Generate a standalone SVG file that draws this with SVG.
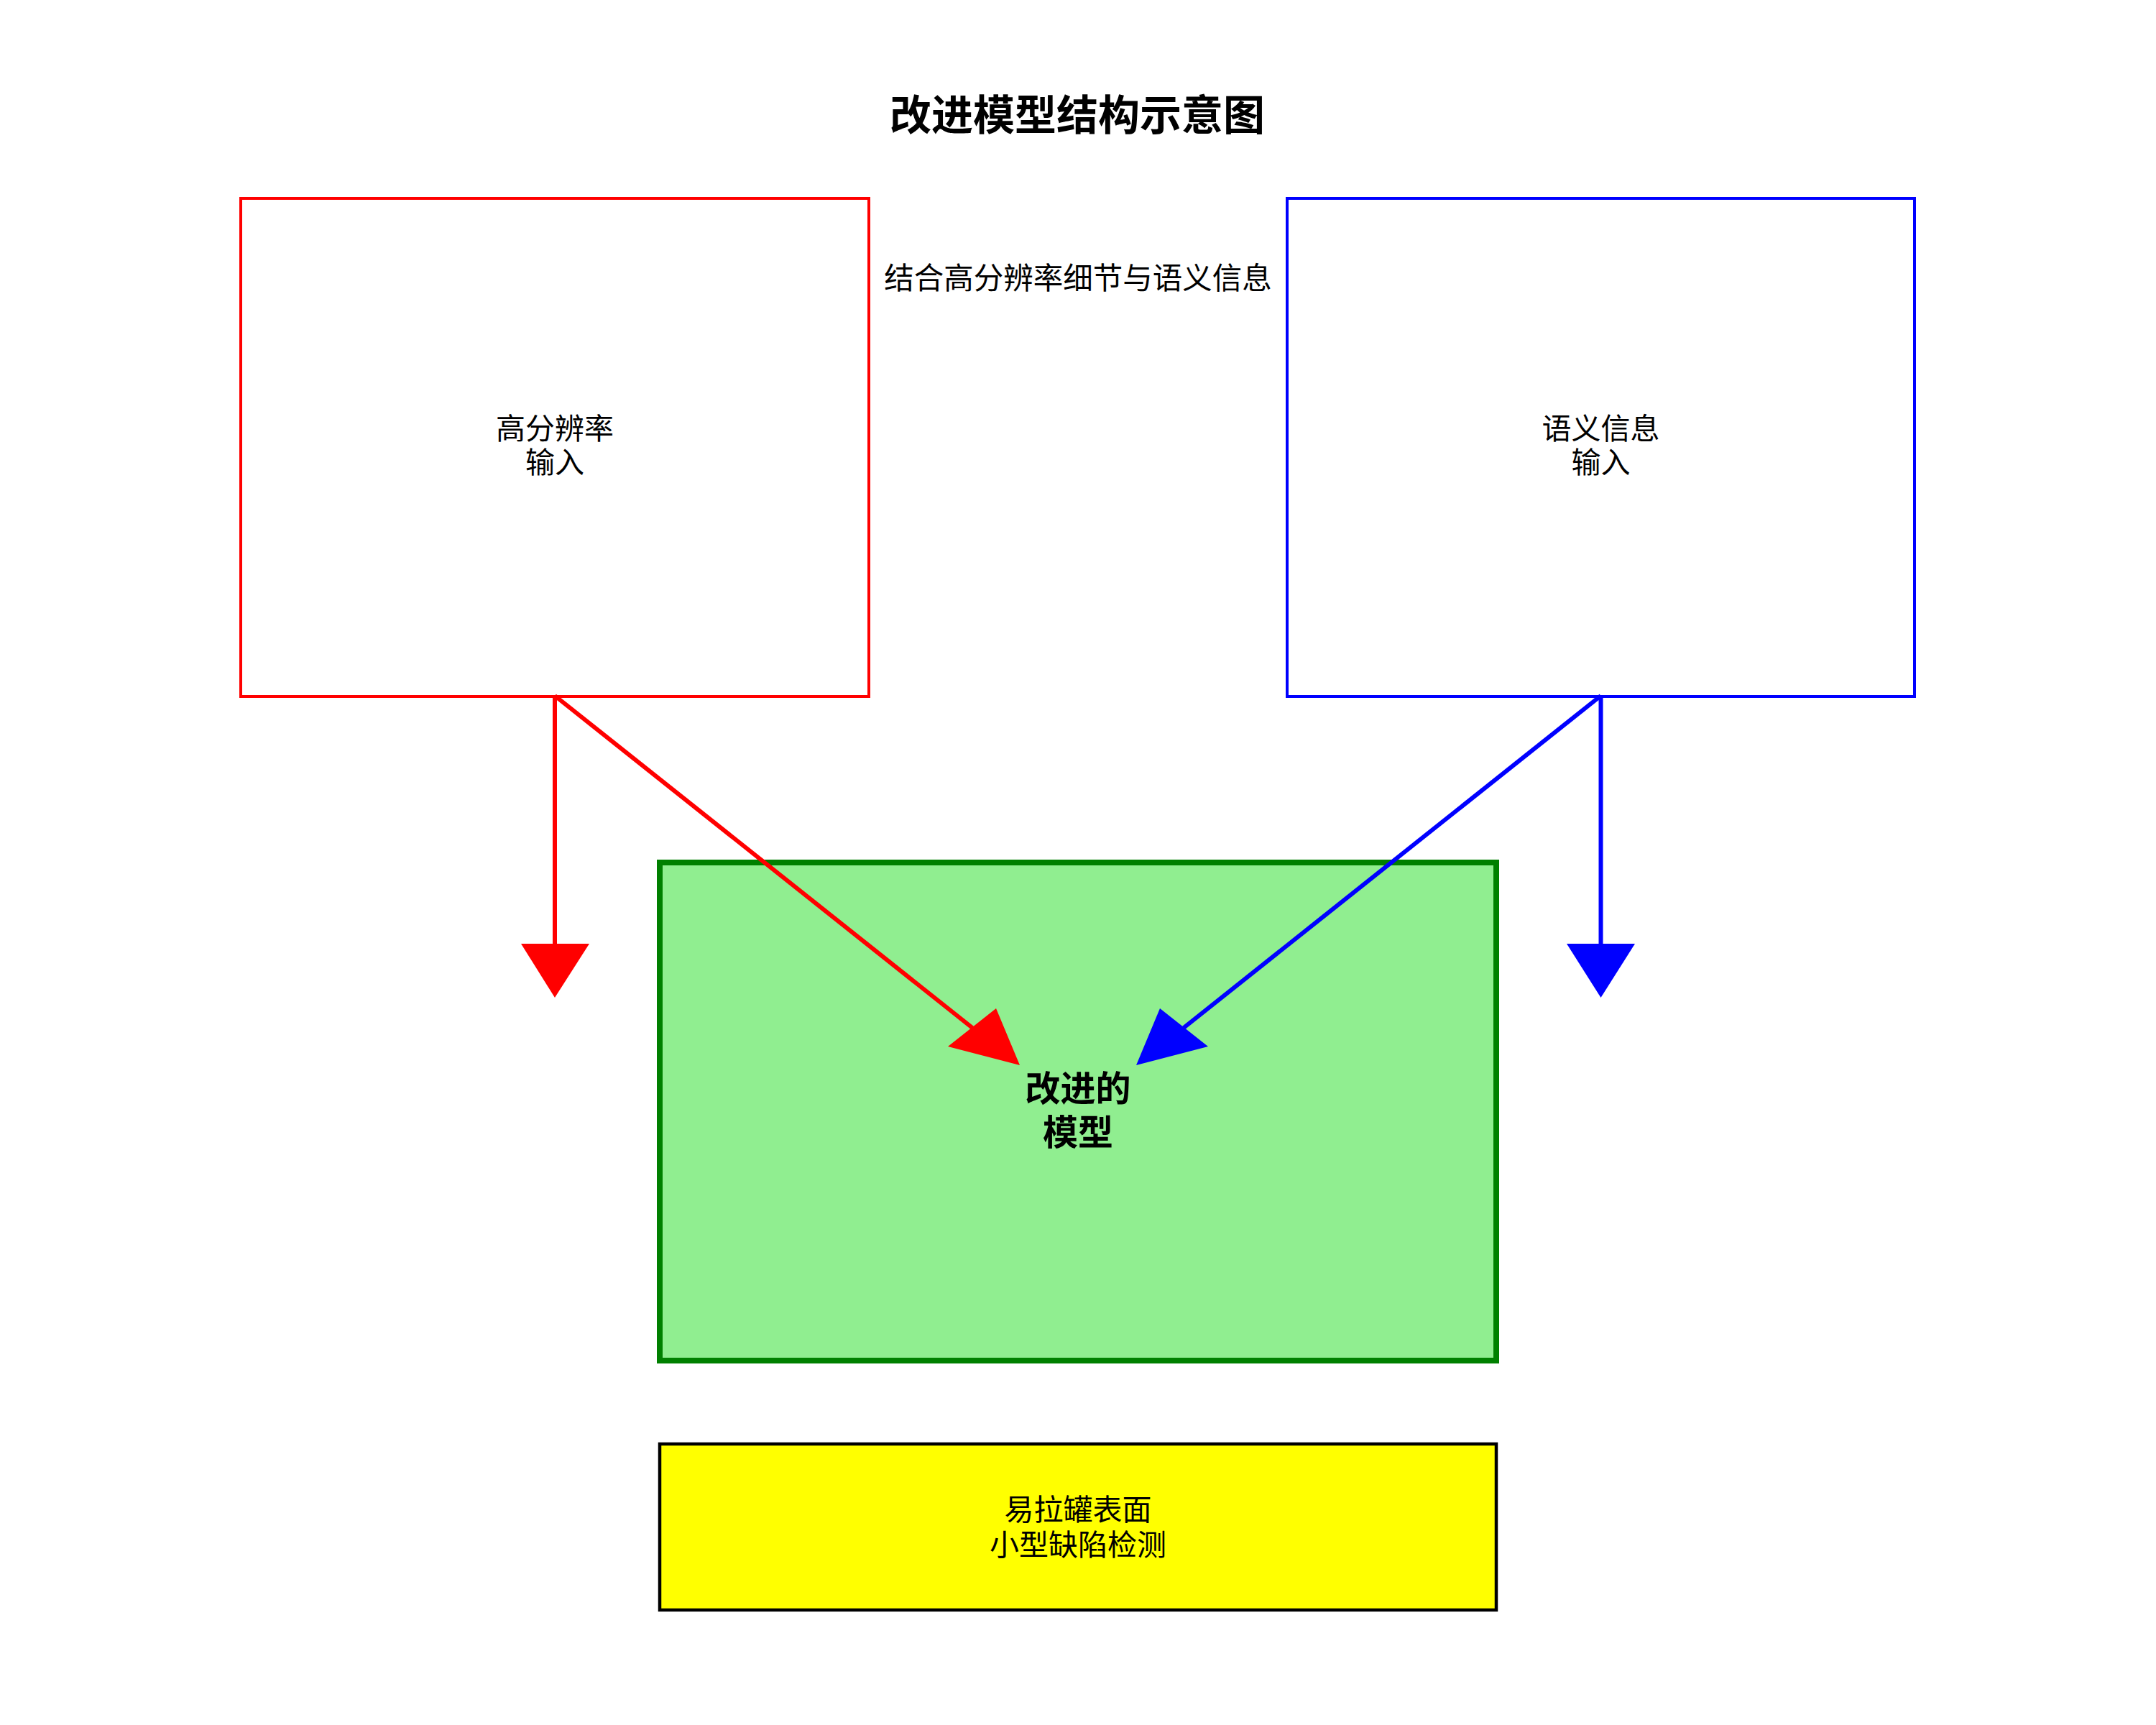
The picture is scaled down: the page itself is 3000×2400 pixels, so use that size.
<svg xmlns="http://www.w3.org/2000/svg" width="3000" height="2400" viewBox="0 0 3000 2400">
  <style>
    text { font-family: "Noto Sans CJK SC", "Noto Sans", "Liberation Sans", sans-serif; fill: #000; text-anchor: middle; }
    .title { font-size: 58px; font-weight: bold; }
    .sub { font-size: 41.5px; }
    .lbl { font-size: 41px; }
    .lblb { font-size: 49px; font-weight: bold; }
    .red { stroke: #ff0000; }
    .blue { stroke: #0000ff; }
    .conn line { stroke-width: 6; fill: none; }
    .headR { fill: #ff0000; }
    .headB { fill: #0000ff; }
  </style>
  <rect x="0" y="0" width="3000" height="2400" fill="#ffffff"/>

  <g id="title">
    <text class="title" x="1499" y="181">改进模型结构示意图</text>
  </g>

  <g id="fusion-label">
    <text class="sub" x="1500" y="402">结合高分辨率细节与语义信息</text>
  </g>

  <g id="node-highres">
    <rect x="335" y="276" width="874" height="693" fill="#ffffff" stroke="#ff0000" stroke-width="4"/>
    <text class="lbl" x="772" y="611">高分辨率</text>
    <text class="lbl" x="772" y="658">输入</text>
  </g>

  <g id="node-semantic">
    <rect x="1791" y="276" width="873" height="693" fill="#ffffff" stroke="#0000ff" stroke-width="4"/>
    <text class="lbl" x="2227.5" y="611">语义信息</text>
    <text class="lbl" x="2227.5" y="658">输入</text>
  </g>

  <g id="node-model">
    <rect x="918" y="1200" width="1164" height="693" fill="#90ee90" stroke="#008000" stroke-width="8"/>
    <text class="lblb" x="1500" y="1532">改进的</text>
    <text class="lblb" x="1500" y="1593">模型</text>
  </g>

  <g id="node-detect">
    <rect x="918" y="2009" width="1164" height="231" fill="#ffff00" stroke="#000000" stroke-width="4.5"/>
    <text class="lbl" x="1500" y="2115">易拉罐表面</text>
    <text class="lbl" x="1500" y="2164">小型缺陷检测</text>
  </g>

  <g id="connectors" class="conn">
    <g id="edge-highres-down">
      <line class="red" x1="772" y1="968" x2="772" y2="1314"/>
      <polygon class="headR" points="725,1313 820,1313 772,1388"/>
    </g>
    <g id="edge-highres-model">
      <line class="red" x1="772" y1="968" x2="1353" y2="1430"/>
      <polygon class="headR" points="1386,1403 1319,1456 1419,1482"/>
    </g>
    <g id="edge-semantic-down">
      <line class="blue" x1="2227.5" y1="968" x2="2227.5" y2="1314"/>
      <polygon class="headB" points="2180,1313 2275,1313 2227.5,1388"/>
    </g>
    <g id="edge-semantic-model">
      <line class="blue" x1="2227.5" y1="968" x2="1647" y2="1430"/>
      <polygon class="headB" points="1614,1403 1681,1456 1581,1482"/>
    </g>
  </g>
</svg>
